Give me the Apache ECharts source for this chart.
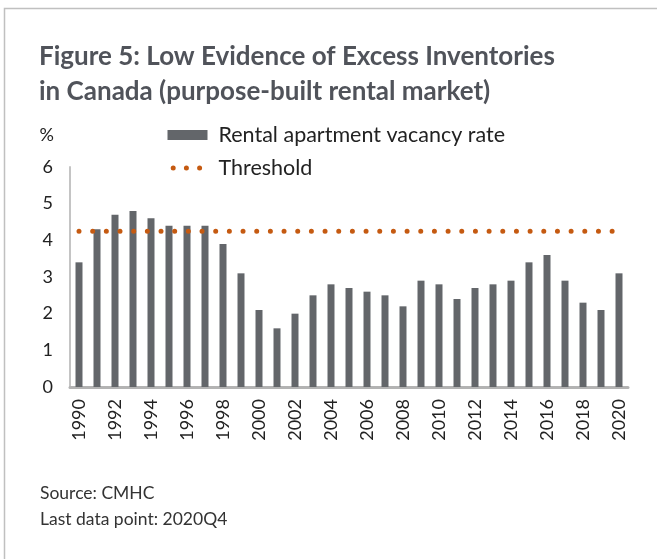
<!DOCTYPE html>
<html>
<head>
<meta charset="utf-8">
<script src="https://cdn.jsdelivr.net/npm/echarts@6/dist/echarts.min.js"></script>
<style>
html,body{margin:0;padding:0;background:#fff;}
#chart{width:657px;height:559px;}
</style>
</head>
<body>
<div id="chart"></div>
<script>
var years = ['1990','1991','1992','1993','1994','1995','1996','1997','1998','1999','2000','2001','2002','2003','2004','2005','2006','2007','2008','2009','2010','2011','2012','2013','2014','2015','2016','2017','2018','2019','2020'];
var vacancyRate = [3.4,4.3,4.7,4.8,4.6,4.4,4.4,4.4,3.9,3.1,2.1,1.6,2.0,2.5,2.8,2.7,2.6,2.5,2.2,2.9,2.8,2.4,2.7,2.8,2.9,3.4,3.6,2.9,2.3,2.1,3.1];
var thresholdValue = 4.25;
var threshold = years.map(function(){ return thresholdValue; });
var yTicks = [0,1,2,3,4,5,6];

var FONT = 'Lato, "Open Sans", sans-serif';
var chart = echarts.init(document.getElementById('chart'), null, {renderer:'canvas'});
chart.setOption({
  animation: false,
  backgroundColor: '#fff',
  title: [{
    text: 'Figure 5: Low Evidence of Excess Inventories\nin Canada (purpose-built rental market)',
    left: 39, top: 39, padding: 0,
    textStyle: {fontFamily: FONT, fontSize: 26, fontWeight: 'bold', color: '#50535a', lineHeight: 35}
  },{
    text: 'Source: CMHC\nLast data point: 2020Q4',
    left: 40, top: 480, padding: 0,
    textStyle: {fontFamily: FONT, fontSize: 17.5, fontWeight: 'normal', color: '#333', lineHeight: 26}
  }],
  graphic: [{
    type: 'polyline',
    shape: {points: [[4.5, 600],[4.5, 8.5],[660, 8.5]]},
    style: {stroke: '#c0c0c0', lineWidth: 1.5, fill: null},
    silent: true
  }],
  legend: {
    orient: 'vertical',
    left: 165, top: 124, padding: 0,
    itemWidth: 40, itemHeight: 10,
    itemGap: 11,
    textStyle: {fontFamily: FONT, fontSize: 21.5, color: '#222', lineHeight: 22, padding: [0,0,0,6]},
    data: [
      {name: 'Rental apartment vacancy rate', icon: 'rect'},
      {name: 'Threshold', itemStyle: {color: 'rgba(0,0,0,0)', borderWidth: 0}, lineStyle: {width: 5, type: [0, 13.2], cap: 'round', dashOffset: -5.7}}
    ]
  },
  grid: {left: 70, right: 29, top: 167, bottom: 172, containLabel: false},
  xAxis: {
    type: 'category',
    data: years,
    boundaryGap: true,
    axisLine: {lineStyle: {color: '#b3b3b3', width: 3}},
    axisTick: {show: false},
    axisLabel: {rotate: 90, interval: 1, fontFamily: FONT, fontSize: 18, color: '#222', margin: 12}
  },
  yAxis: {
    type: 'value',
    min: yTicks[0], max: yTicks[yTicks.length-1], interval: 1,
    name: '%',
    nameLocation: 'end',
    nameGap: 32,
    nameTextStyle: {fontFamily: FONT, fontSize: 18, color: '#222', align: 'right', verticalAlign: 'middle', padding: [0, 16, 0, 0]},
    axisLine: {show: true, lineStyle: {color: '#c4c4c4', width: 2}},
    axisTick: {show: false},
    splitLine: {show: false},
    axisLabel: {fontFamily: FONT, fontSize: 18, color: '#222', margin: 17}
  },
  series: [{
    name: 'Rental apartment vacancy rate',
    type: 'bar',
    data: vacancyRate,
    barWidth: 7,
    itemStyle: {color: '#63666a'}
  },{
    name: 'Threshold',
    type: 'line',
    data: threshold,
    symbol: 'none',
    lineStyle: {color: '#c55a11', width: 5, type: [0, 13.67], cap: 'round'},
    itemStyle: {color: '#c55a11'},
    z: 3
  }]
});
</script>
</body>
</html>
